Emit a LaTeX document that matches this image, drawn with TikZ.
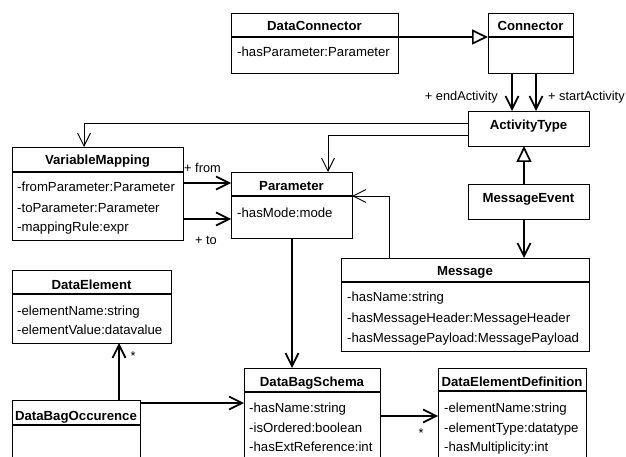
\documentclass[tikz,border=0pt]{standalone}
\usepackage{fontspec}
\setmainfont{Liberation Sans}
\usetikzlibrary{arrows.meta}
\tikzset{
  box/.style={draw, line width=0.9pt, inner sep=0pt, outer sep=0pt, anchor=north west},
  ttl/.style={font=\fontsize{13.2}{15}\selectfont\bfseries, inner sep=0pt, anchor=base},
  attr/.style={font=\fontsize{13.2}{15}\selectfont, inner sep=0pt, anchor=base west},
  lbl/.style={font=\fontsize{12.8}{15}\selectfont, inner sep=0pt, anchor=base},
  hdr/.style={line width=1.2pt},
  conthin/.style={line width=0.9pt},
  conthick/.style={line width=1.7pt},
  opena/.style={-{Straight Barb[length=13pt,width=13pt]}},
  gena/.style={-{Triangle[open,length=16pt,width=15pt,fill=white]}},
}
% name, x1, y1, x2, y2, header y, title, title baseline
\newcommand\umlcls[8]{%
  \node[box, minimum width={(#4)-(#2)}, minimum height={(#5)-(#3)}] (#1) at (#2,#3) {};
  \node[ttl] (#1t) at ({((#2)+(#4))/2}, #8) {#7};
  \ifx\relax#6\relax\else
    \draw[hdr] (#1.west |- 0,#6) -- (#1.east |- 0,#6);
  \fi
}
\newcommand\umlattr[4]{% name, x, baseline y, text
  \node[attr] (#1) at (#2,#3) {#4};
}
\begin{document}
\begin{tikzpicture}[x=1pt,y=-1pt]
\useasboundingbox (0,0) rectangle (626,457);
\clip (0,0) rectangle (626,457);

% classes
\umlcls{dc}{231}{13}{398}{73}{37}{DataConnector}{31}
\umlattr{dca}{237}{57}{-hasParameter:Parameter}

\umlcls{con}{488}{13}{573}{73}{37}{Connector}{31}

\umlcls{act}{468}{111}{589}{146}{}{ActivityType}{130}

\umlcls{vm}{12}{147}{183}{240}{172}{VariableMapping}{165}
\umlattr{vma}{17}{192}{-fromParameter:Parameter}
\umlattr{vmb}{17}{212}{-toParameter:Parameter}
\umlattr{vmc}{17}{231}{-mappingRule:expr}

\umlcls{par}{231}{172}{352}{238}{196}{Parameter}{190}
\umlattr{para}{237}{217}{-hasMode:mode}

\umlcls{me}{468}{184}{589}{219}{}{MessageEvent}{203}

\umlcls{msg}{341}{258}{589}{351}{282}{Message}{275}
\umlattr{msga}{347}{301}{-hasName:string}
\umlattr{msgb}{347}{322}{-hasMessageHeader:MessageHeader}
\umlattr{msgc}{347}{342}{-hasMessagePayload:MessagePayload}

\umlcls{de}{12}{270}{171}{343}{294}{DataElement}{289}
\umlattr{dea}{17}{315}{-elementName:string}
\umlattr{deb}{17}{334}{-elementValue:datavalue}

\umlcls{dbo}{12}{400}{140}{480}{425}{DataBagOccurence}{420}

\umlcls{dbs}{244}{368}{380}{480}{392}{DataBagSchema}{386}
\umlattr{dbsa}{249}{412}{-hasName:string}
\umlattr{dbsb}{249}{432}{-isOrdered:boolean}
\umlattr{dbsc}{249}{451}{-hasExtReference:int}

\umlcls{ded}{438}{368}{586}{480}{391}{DataElementDefinition}{386}
\umlattr{deda}{444}{412}{-elementName:string}
\umlattr{dedb}{444}{432}{-elementType:datatype}
\umlattr{dedc}{444}{451}{-hasMultiplicity:int}

% connectors
\draw[conthick, gena] (dc.east |- 0,37) -- (con.west |- 0,37);
\draw[conthick, opena] (con.south -| 512,0) -- (act.north -| 512,0);
\draw[conthick, opena] (con.south -| 536,0) -- (act.north -| 536,0);
\node[lbl, anchor=base east] (lend) at (498,101) {+ endActivity};
\node[lbl, anchor=base west] (lstart) at (548,101) {+ startActivity};

\draw[conthin, opena] (act.west |- 0,123) -| (vm.north -| 84,0);
\draw[conthin, opena] (act.west |- 0,135) -| (par.north -| 328,0);

\draw[conthick, opena] (vm.east |- 0,183) -- (par.west |- 0,183);
\draw[conthick, opena] (vm.east |- 0,219) -- (par.west |- 0,219);
\node[lbl, anchor=base west] (lfrom) at (184,173) {+ from};
\node[lbl] (lto) at (206,244) {+ to};

\draw[conthick, gena] (me.north -| 524,0) -- (act.south -| 524,0);
\draw[conthick, opena] (me.south -| 524,0) -- (msg.north -| 524,0);

\draw[conthin, opena] (msg.north -| 389,0) |- (par.east |- 0,196);

\draw[conthick, opena] (par.south -| 292,0) -- (dbs.north -| 292,0);

\draw[conthick, opena] (dbo.north -| 119,0) -- (de.south -| 119,0);
\node[lbl] (star1) at (133,360) {*};
\draw[conthick, opena] (dbo.east |- 0,403) -- (dbs.west |- 0,403);

\draw[conthick, opena] (dbs.east |- 0,416) -- (ded.west |- 0,416);
\node[lbl] (star2) at (421,437) {*};
\end{tikzpicture}
\end{document}
